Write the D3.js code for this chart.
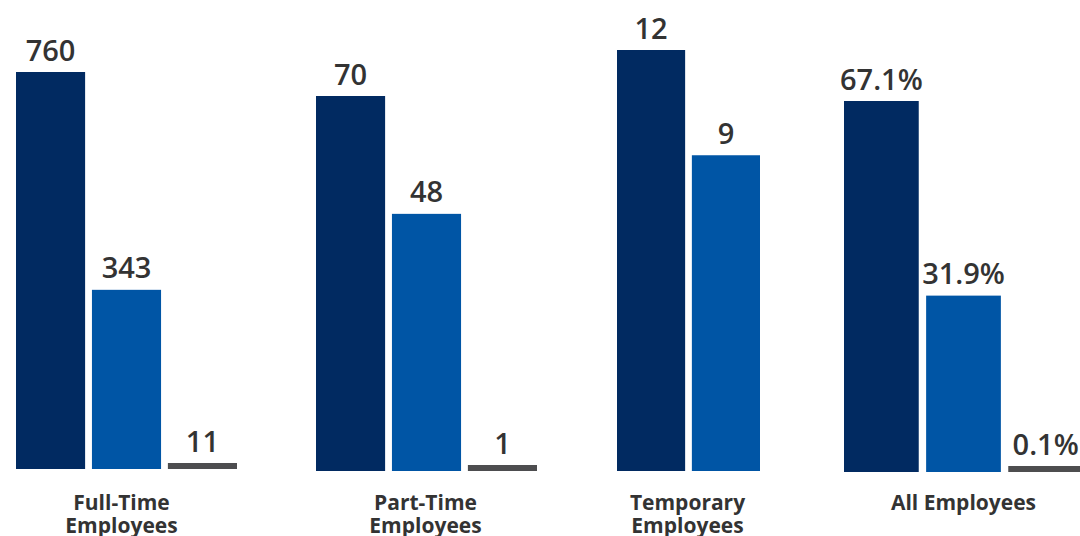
<!DOCTYPE html>
<html>
<head>
<meta charset="utf-8">
<script src="https://cdn.jsdelivr.net/npm/d3@7"></script>
<style>
  html, body { margin: 0; padding: 0; background: #ffffff; }
  svg { display: block; }
</style>
</head>
<body>
<svg id="chart" width="1080" height="536"></svg>
<script>
// Employee counts by type, and the overall share
const categories = ["Full-Time Employees", "Part-Time Employees", "Temporary Employees", "All Employees"];
const categoryLines = [["Full-Time", "Employees"], ["Part-Time", "Employees"], ["Temporary", "Employees"], ["All Employees"]];
const seriesA = [760, 70, 12, 67.1];
const seriesB = [343, 48, 9, 31.9];
const seriesC = [11, 1, null, 0.1];
const valueLabels = [
  ["760", "343", "11"],
  ["70", "48", "1"],
  ["12", "9", null],
  ["67.1%", "31.9%", "0.1%"]
];

const colors = ["#012a61", "#0055a5", "#4d4d4f"];

// Each group is drawn with its own scale
const layout = [
  { x0: 16,  x1: 237,  base: 469, h: 397, slots: 3 },
  { x0: 316, x1: 537,  base: 471, h: 375, slots: 3 },
  { x0: 617, x1: 760,  base: 471, h: 421, slots: 2 },
  { x0: 844, x1: 1083, base: 472, h: 371, slots: 3 }
];
const minBar = 6;

const svg = d3.select("#chart");

categories.forEach((cat, gi) => {
  const L = layout[gi];
  const vals = [seriesA[gi], seriesB[gi], seriesC[gi]];
  const items = vals.map((v, si) => ({ v, si, label: valueLabels[gi][si] }))
                    .filter(d => d.v !== null);

  const x = d3.scaleBand()
    .domain(d3.range(L.slots))
    .range([L.x0, L.x1])
    .paddingInner(0.09)
    .paddingOuter(0);

  const y = d3.scaleLinear()
    .domain([0, d3.max(items, d => d.v)])
    .range([L.base, L.base - L.h]);

  const top = d => Math.min(y(d.v), L.base - minBar);

  const g = svg.append("g");

  g.selectAll("rect")
    .data(items)
    .join("rect")
    .attr("x", d => x(d.si))
    .attr("y", d => top(d))
    .attr("width", x.bandwidth())
    .attr("height", d => L.base - top(d))
    .attr("fill", d => colors[d.si]);

  g.selectAll("text.val")
    .data(items)
    .join("text")
    .attr("class", "val")
    .attr("x", d => x(d.si) + x.bandwidth() / 2)
    .attr("y", d => top(d) - 11.5)
    .attr("text-anchor", "middle")
    .attr("font-family", "'Open Sans', sans-serif")
    .attr("font-weight", 600)
    .attr("font-size", 29)
    .attr("fill", "#333333")
    .text(d => d.label);

  const cx = gi === 0 ? 121.5 : (L.x0 + L.x1) / 2 - (gi === 3 ? 0 : 1);
  const t = g.append("text")
    .attr("x", cx)
    .attr("y", 510)
    .attr("text-anchor", "middle")
    .attr("font-family", "'Open Sans', sans-serif")
    .attr("font-weight", 700)
    .attr("font-size", 21)
    .attr("fill", "#333333");
  categoryLines[gi].forEach((line, li) => {
    t.append("tspan")
      .attr("x", cx)
      .attr("dy", li === 0 ? 0 : 23)
      .text(line);
  });
});
</script>
</body>
</html>
